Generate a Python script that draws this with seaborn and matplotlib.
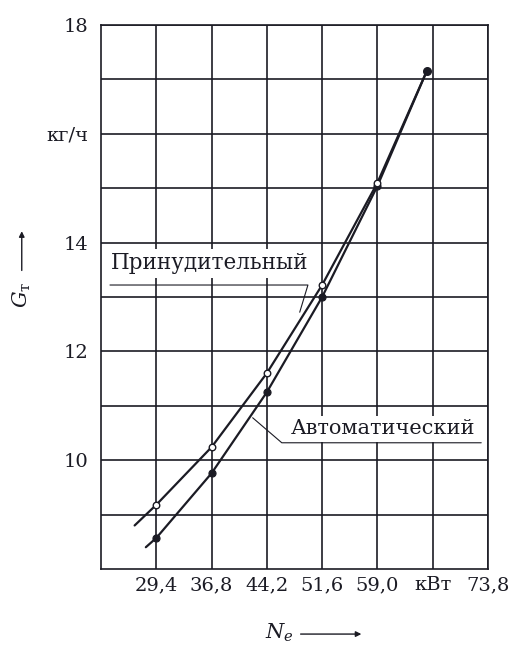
import numpy as np
import pandas as pd
import seaborn as sns
import matplotlib.pyplot as plt

# measured points (open circles = forced, filled = automatic)
power_kw = [29.4, 36.8, 44.2, 51.6, 59.0]
g_forced = [9.18, 10.24, 11.60, 13.22, 15.10]
g_auto = [8.57, 9.76, 11.25, 13.00, 15.04]

# curve traces (start of line, points, common end point)
curve_forced_x = [26.5, 29.4, 36.8, 44.2, 51.6, 59.0, 65.6]
curve_forced_y = [8.80, 9.18, 10.24, 11.60, 13.22, 15.10, 17.15]
curve_auto_x = [28.0, 29.4, 36.8, 44.2, 51.6, 59.0, 65.6]
curve_auto_y = [8.40, 8.57, 9.76, 11.25, 13.00, 15.04, 17.15]
end_x = [65.6]
end_y = [17.15]

x_ticks = [29.4, 36.8, 44.2, 51.6, 59.0, 66.4, 73.8]
x_labels = ["29,4", "36,8", "44,2", "51,6", "59,0", "кВт", "73,8"]
y_ticks = [9, 10, 11, 12, 13, 14, 15, 16, 17, 18]
y_labels = ["", "10", "", "12", "", "14", "", "кг/ч", "", "18"]

sns.set_theme(style="white")
plt.rcParams['font.family'] = ['DejaVu Serif']
plt.rcParams['mathtext.fontset'] = 'dejavuserif'
ink = "#1b1b24"

fig = plt.figure(figsize=(5.18, 6.49), dpi=100)
ax = fig.add_axes([0.195, 0.1233, 0.747, 0.8382])

lines = pd.DataFrame({
    "N": curve_forced_x + curve_auto_x,
    "G": curve_forced_y + curve_auto_y,
    "mode": ["forced"] * len(curve_forced_x) + ["auto"] * len(curve_auto_x),
})
sns.lineplot(data=lines, x="N", y="G", hue="mode", palette=[ink, ink],
             sort=False, lw=1.6, legend=False, ax=ax, zorder=3)

pts = pd.DataFrame({"N": power_kw, "forced": g_forced, "auto": g_auto})
sns.scatterplot(data=pts, x="N", y="auto", color=ink, s=26, marker="o",
                edgecolor=ink, linewidth=0.8, ax=ax, zorder=4)
sns.scatterplot(data=pts, x="N", y="forced", color="white", s=22, marker="o",
                edgecolor=ink, linewidth=1.0, ax=ax, zorder=5)
ax.scatter(end_x, end_y, s=30, color=ink, zorder=5)

ax.set_xlim(22.0, 73.8)
ax.set_ylim(8, 18)
ax.set_xticks(x_ticks)
ax.set_xticklabels(x_labels)
ax.set_yticks(y_ticks)
ax.set_yticklabels(y_labels)
ax.set_xlabel("")
ax.set_ylabel("")
ax.grid(True, color=ink, lw=1.2)
ax.set_axisbelow(True)
for s in ax.spines.values():
    s.set_color(ink)
    s.set_linewidth(1.2)
ax.tick_params(axis="both", length=0, labelsize=14, colors=ink)
ax.tick_params(axis="x", pad=5)
ax.tick_params(axis="y", pad=9)

# curve labels with leader lines
ax.text(36.6, 13.62, "Принудительный", ha="center", va="center", fontsize=15.5,
        color=ink, zorder=6,
        bbox=dict(facecolor="white", edgecolor="none", pad=2.5))
ax.plot([23.2, 49.7, 48.6], [13.22, 13.22, 12.72], color=ink, lw=0.8, zorder=6)

ax.text(59.8, 10.58, "Автоматический", ha="center", va="center", fontsize=15,
        color=ink, zorder=6,
        bbox=dict(facecolor="white", edgecolor="none", pad=2.5))
ax.plot([42.3, 46.2, 72.9], [10.78, 10.32, 10.32], color=ink, lw=0.8, zorder=6)

# axis titles with arrows
fig.text(0.042, 0.545, r"$G_{\mathrm{т}}$", rotation=90, ha="center", va="center",
         fontsize=15, color=ink)
ax.annotate("", xy=(0.042, 0.648), xytext=(0.042, 0.579), xycoords="figure fraction",
            arrowprops=dict(arrowstyle="-|>", color=ink, lw=1.0, mutation_scale=8))
fig.text(0.539, 0.025, r"$N_e$", ha="center", va="center", fontsize=15, color=ink)
ax.annotate("", xy=(0.703, 0.023), xytext=(0.575, 0.023), xycoords="figure fraction",
            arrowprops=dict(arrowstyle="-|>", color=ink, lw=1.0, mutation_scale=8))

plt.savefig("out.png", dpi=100)
